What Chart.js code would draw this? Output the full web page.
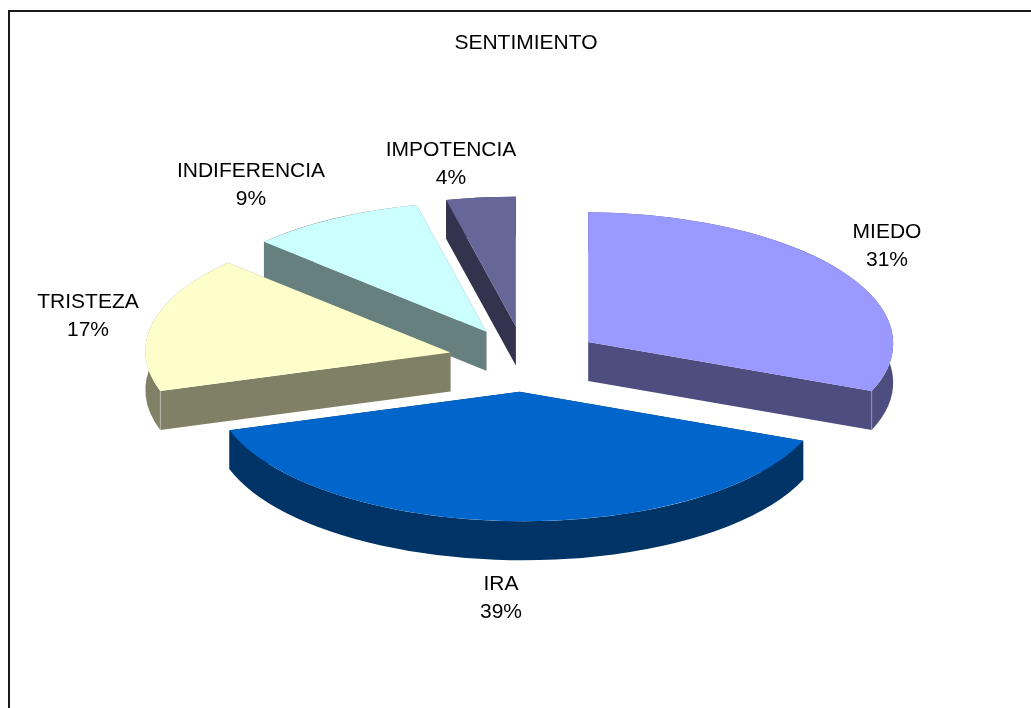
<!DOCTYPE html>
<html lang="es">
<head>
<meta charset="utf-8">
<title>SENTIMIENTO</title>
<style>
html,body{margin:0;padding:0;background:#fff;overflow:hidden}
canvas{display:block}
</style>
<script src="https://cdn.jsdelivr.net/npm/chart.js@4"></script>
</head>
<body>
<canvas id="c" width="1031" height="708"></canvas>
<script>
const chartTitle = 'SENTIMIENTO';
const categories = ['MIEDO', 'IRA', 'TRISTEZA', 'INDIFERENCIA', 'IMPOTENCIA'];
const values = [31, 39, 17, 9, 4];
const topColors = ['#9999FF', '#0066CC', '#FFFFCC', '#CCFFFF', '#666699'];
const wallColors = ['#4D4D80', '#003366', '#808066', '#668080', '#33334D'];
const labelCentres = [[887, 232], [501, 584], [88, 302], [251, 171], [451, 150]];

const FONT = '21px "Liberation Sans", Arial, sans-serif';
const LINE = 28;
const RADIUS = 305, EXPLODE = 77, TILT = 0.425, DEPTH = 39, SHEAR = 0.005;
const CENTRE = {x: 522.5, y: 359};
// small per-slice corrections for the reference's camera perspective (screen px)
const nudgeX = [2, -0.5, 3, 3, 3];
const nudgeY = [1, 0, 1, 1, 0];
const BACK_EDGE_SHIFT = 1.2 * Math.PI / 180;

function chartCentre(chart) {
  const a = chart.chartArea;
  return {x: (a.left + a.right) / 2, y: (a.top + a.bottom) / 2};
}

const pie3d = {
  id: 'pie3d',
  afterDatasetsUpdate(chart) {
    const c = chartCentre(chart);
    const arcs = chart.getDatasetMeta(0).data;
    arcs.forEach((arc, i) => {
      const mid = (arc.startAngle + arc.endAngle) / 2;
      arc.x = c.x + Math.cos(mid) * EXPLODE + nudgeX[i];
      arc.y = c.y + Math.sin(mid) * EXPLODE + nudgeY[i] / TILT;
    });
    // far edge between the two back slices is foreshortened by perspective
    arcs[3].endAngle += BACK_EDGE_SHIFT;
    arcs[4].startAngle += BACK_EDGE_SHIFT;
  },
  beforeDraw(chart) {
    const ctx = chart.ctx;
    ctx.save();
    ctx.fillStyle = '#1a1a1a';
    ctx.fillRect(8, 10, 1023, 2);
    ctx.fillRect(8, 10, 2, 698);
    ctx.restore();
  },
  beforeDatasetsDraw(chart) {
    const ctx = chart.ctx, c = chartCentre(chart);
    const arcs = chart.getDatasetMeta(0).data;
    ctx.save();
    ctx.translate(CENTRE.x, CENTRE.y);
    ctx.transform(1, SHEAR, 0, 1, 0, 0);
    ctx.translate(-CENTRE.x, -CENTRE.y);
    [4, 3, 2, 0, 1].forEach(i => {
      const arc = arcs[i];
      const sx = CENTRE.x + (arc.x - c.x);
      const sy = CENTRE.y + (arc.y - c.y) * TILT;
      const r = arc.outerRadius;
      const pt = a => [sx + Math.cos(a) * r, sy + Math.sin(a) * r * TILT];
      ctx.fillStyle = wallColors[i];
      [arc.startAngle, arc.endAngle].forEach(a => {
        const p = pt(a);
        ctx.beginPath();
        ctx.moveTo(sx, sy);
        ctx.lineTo(p[0], p[1]);
        ctx.lineTo(p[0], p[1] + DEPTH);
        ctx.lineTo(sx, sy + DEPTH);
        ctx.closePath();
        ctx.fill();
      });
      ctx.beginPath();
      ctx.ellipse(sx, sy, r, r * TILT, 0, arc.startAngle, arc.endAngle);
      ctx.ellipse(sx, sy + DEPTH, r, r * TILT, 0, arc.endAngle, arc.startAngle, true);
      ctx.closePath();
      ctx.fill();
      // light seam on corners where two wall faces meet
      ctx.fillStyle = 'rgba(255,255,255,0.3)';
      [[arc.startAngle, -1], [arc.endAngle, 1]].forEach(([a, s]) => {
        if (Math.sin(a) > 0 && s * Math.cos(a) > 0) {
          const p = pt(a);
          ctx.fillRect(p[0] - 0.5, p[1], 1, DEPTH);
        }
      });
    });
    ctx.restore();
    ctx.save();
    ctx.translate(CENTRE.x, CENTRE.y);
    ctx.transform(1, SHEAR, 0, 1, 0, 0);
    ctx.scale(1, TILT);
    ctx.translate(-c.x, -c.y);
  },
  afterDatasetsDraw(chart) {
    chart.ctx.restore();
  },
  afterDraw(chart) {
    const ctx = chart.ctx;
    const total = values.reduce((s, v) => s + v, 0);
    ctx.save();
    ctx.fillStyle = '#000';
    ctx.font = FONT;
    ctx.textAlign = 'center';
    ctx.textBaseline = 'middle';
    categories.forEach((name, i) => {
      const [x, y] = labelCentres[i];
      ctx.fillText(name, x, y);
      ctx.fillText(Math.round(values[i] / total * 100) + '%', x, y + LINE);
    });
    ctx.restore();
  }
};

new Chart(document.getElementById('c'), {
  type: 'pie',
  data: {
    labels: categories,
    datasets: [{
      data: values,
      backgroundColor: topColors,
      borderWidth: 0,
      clip: false,
      radius: RADIUS
    }]
  },
  options: {
    responsive: false,
    animation: false,
    rotation: 0,
    layout: {padding: {left: 21}},
    plugins: {
      legend: {display: false},
      tooltip: {enabled: false},
      title: {
        display: true,
        text: chartTitle,
        color: '#000',
        font: {family: '"Liberation Sans", Arial, sans-serif', size: 21, weight: 'normal', lineHeight: 1.2},
        padding: {top: 31, bottom: 0}
      }
    }
  },
  plugins: [pie3d]
});
</script>
</body>
</html>
